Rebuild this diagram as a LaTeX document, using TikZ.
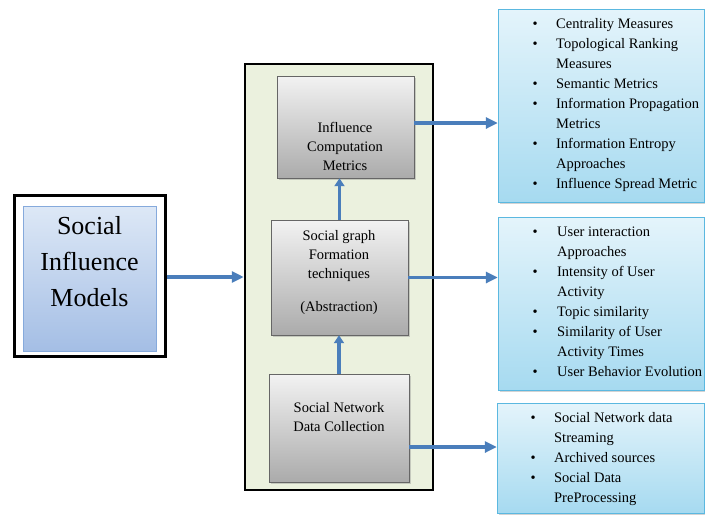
\documentclass[tikz,border=0pt]{standalone}
\usepackage{fontspec}
\setmainfont{Liberation Serif}
\usetikzlibrary{arrows.meta,shadows,positioning}
\definecolor{flowblue}{HTML}{4A7EBB}
\definecolor{boxgreen}{HTML}{EBF1DE}
\definecolor{listedge}{HTML}{5BB8E0}
\definecolor{listtop}{HTML}{E4F4FB}
\definecolor{listbottom}{HTML}{A6DAF0}
\definecolor{modeledge}{HTML}{86AADC}
\definecolor{modeltop}{HTML}{DDE8F6}
\definecolor{modelbottom}{HTML}{A4BEE5}
\tikzset{
  procbox/.style={draw=black!60, inner sep=0pt, top color=black!5, bottom color=black!33,
    drop shadow={shadow xshift=1.5pt, shadow yshift=-1.5pt, opacity=0.35}},
  listbox/.style={draw=listedge, inner sep=0pt, top color=listtop, bottom color=listbottom,
    drop shadow={shadow xshift=1.5pt, shadow yshift=-1.5pt, opacity=0.35}},
  items/.style={anchor=north west, inner sep=0pt, font=\fontsize{14.5}{20}\selectfont},
  boxtext/.style={align=center, inner sep=0pt, font=\fontsize{14.5}{19}\selectfont},
  flow/.style={flowblue, line width=3.5pt, -{Triangle[length=12pt,width=11pt]}},
  upflow/.style={flowblue, line width=3.5pt, -{Triangle[length=8pt,width=10pt]}},
}
\begin{document}
\begin{tikzpicture}[x=1pt,y=-1pt]
        \useasboundingbox (0,0) rectangle (705,515);
        %% Models
        \node[draw,line width=3pt,fill=white,minimum width=151pt,minimum height=161pt,inner sep=0pt] (outerL) at (89.5,275.5) {};
        \node[draw=modeledge,top color=modeltop,bottom color=modelbottom,minimum width=133pt,minimum height=145pt,inner sep=0pt] (sim) at (89.5,278.5) {};
        \node[align=center,inner sep=0pt,font=\fontsize{26}{36}\selectfont] (simT) at (89.5,262) {Social\\Influence\\Models};
        %% Container and process blocks
        \node[draw,line width=2.5pt,fill=boxgreen,minimum width=188pt,minimum height=426pt,inner sep=0pt] (cont) at (339,277) {};
        \node[procbox,minimum width=137pt,minimum height=102pt] (icm) at (345.5,127) {};
        \node[procbox,minimum width=137pt,minimum height=115pt] (sgf) at (339.5,277.5) {};
        \node[procbox,minimum width=140pt,minimum height=108pt] (sndc) at (339,428) {};
        \node[boxtext] (icmT) at (345,146) {Influence\\Computation\\Metrics};
        \node[boxtext] (sgfT) at (339,272.5) {Social graph\\Formation\\techniques\\[14pt](Abstraction)};
        \node[boxtext] (sndcT) at (339,417.5) {Social Network\\Data Collection};
        %% Lists
        \node[listbox,minimum width=206pt,minimum height=193pt] (listA) at (601,105.5) {};
        \node[listbox,minimum width=206pt,minimum height=173pt] (listB) at (601,303.5) {};
        \node[listbox,minimum width=207pt,minimum height=110pt] (listC) at (600.5,458) {};
        \node[items] (listAT) at (532.5,14) {\begin{tabular}{@{}l@{\hspace{18.4pt}}l@{}}
          \textbullet & Centrality Measures\\
          \textbullet & Topological Ranking\\
                      & Measures\\
          \textbullet & Semantic Metrics\\
          \textbullet & Information Propagation\\
                      & Metrics\\
          \textbullet & Information Entropy\\
                      & Approaches\\
          \textbullet & Influence Spread Metric
        \end{tabular}};
        \node[items] (listBT) at (532.5,222) {\begin{tabular}{@{}l@{\hspace{19.4pt}}l@{}}
          \textbullet & User interaction\\
                      & Approaches\\
          \textbullet & Intensity of User\\
                      & Activity\\
          \textbullet & Topic similarity\\
          \textbullet & Similarity of User\\
                      & Activity Times\\
          \textbullet & User Behavior Evolution
        \end{tabular}};
        \node[items] (listCT) at (530.5,408) {\begin{tabular}{@{}l@{\hspace{18.4pt}}l@{}}
          \textbullet & Social Network data\\
                      & Streaming\\
          \textbullet & Archived sources\\
          \textbullet & Social Data\\
                      & PreProcessing
        \end{tabular}};
        %% Arrows
        \draw[flow] ([yshift=-1.5pt]outerL.east) -- ([yshift=-1.5pt]outerL.east -| cont.west);
        \draw[upflow] (sndc.north) -- (sndc.north |- sgf.south);
        \draw[upflow] (sgf.north) -- (sgf.north |- icm.south);
        \draw[flow] ([yshift=4pt]icm.east) -- ([yshift=4pt]icm.east -| listA.west);
        \draw[flow] (sgf.east) -- (sgf.east -| listB.west);
        \draw[flow] ([yshift=-19pt]sndc.east) -- ([yshift=-19pt]sndc.east -| listC.west);
\end{tikzpicture}
\end{document}
